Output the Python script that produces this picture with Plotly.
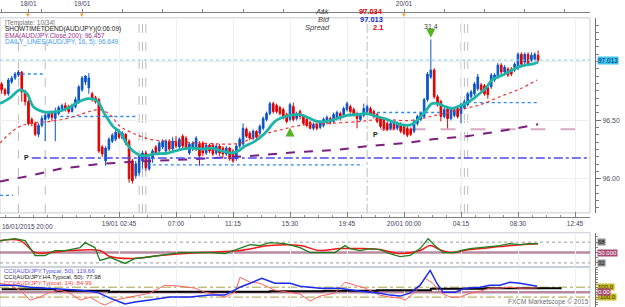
import plotly.graph_objects as go

W, H = 625, 307
FONT = "Liberation Sans"

# ---------------- candles (15-min AUD/JPY) ----------------
candle_idx = list(range(1, 162))
opens = [96.809, 96.759, 96.725, 96.826, 96.860, 96.885, 96.911, 96.742, 96.658, 96.506,
         96.472, 96.379, 96.455, 96.506, 96.523, 96.556, 96.514, 96.556, 96.590, 96.624,
         96.616, 96.573, 96.616, 96.658, 96.759, 96.826, 96.776, 96.725, 96.691, 96.675,
         96.270, 96.152, 96.253, 96.320, 96.337, 96.405, 96.346, 96.379, 96.320, 96.152,
         96.025, 96.051, 96.152, 96.219, 96.084, 96.169, 96.270, 96.236, 96.270, 96.236,
         96.320, 96.253, 96.320, 96.270, 96.363, 96.346, 96.219, 96.253, 96.253, 96.295,
         96.304, 96.219, 96.287, 96.287, 96.219, 96.278, 96.261, 96.211, 96.261, 96.236,
         96.169, 96.278, 96.295, 96.422, 96.388, 96.346, 96.405, 96.388, 96.430, 96.506,
         96.556, 96.641, 96.624, 96.607, 96.590, 96.548, 96.506, 96.616, 96.514, 96.573,
         96.531, 96.506, 96.481, 96.430, 96.464, 96.438, 96.455, 96.481, 96.514, 96.489,
         96.514, 96.556, 96.548, 96.590, 96.616, 96.590, 96.556, 96.506, 96.540, 96.573,
         96.599, 96.573, 96.548, 96.514, 96.497, 96.472, 96.430, 96.472, 96.430, 96.464,
         96.447, 96.430, 96.422, 96.405, 96.472, 96.506, 96.531, 96.675, 96.869, 96.928,
         96.700, 96.658, 96.531, 96.599, 96.514, 96.540, 96.599, 96.556, 96.607, 96.632,
         96.700, 96.725, 96.767, 96.801, 96.793, 96.776, 96.784, 96.843, 96.869, 96.970,
         96.911, 96.936, 96.936, 96.928, 96.944, 97.062, 96.995, 97.062, 97.012, 97.020,
         97.054]
highs = [96.826, 96.776, 96.860, 96.877, 96.911, 96.928, 96.919, 96.759, 96.675, 96.523,
         96.489, 96.472, 96.540, 96.565, 96.573, 96.582, 96.607, 96.624, 96.641, 96.649,
         96.632, 96.641, 96.700, 96.801, 96.877, 96.885, 96.902, 96.742, 96.708, 96.691,
         96.287, 96.278, 96.354, 96.388, 96.422, 96.422, 96.405, 96.388, 96.337, 96.169,
         96.152, 96.202, 96.236, 96.236, 96.194, 96.253, 96.287, 96.320, 96.337, 96.337,
         96.337, 96.354, 96.363, 96.354, 96.379, 96.363, 96.312, 96.320, 96.363, 96.320,
         96.320, 96.304, 96.295, 96.304, 96.295, 96.295, 96.278, 96.278, 96.270, 96.253,
         96.295, 96.354, 96.472, 96.438, 96.405, 96.422, 96.413, 96.464, 96.531, 96.573,
         96.658, 96.658, 96.641, 96.624, 96.607, 96.565, 96.649, 96.649, 96.573, 96.590,
         96.548, 96.523, 96.497, 96.481, 96.481, 96.497, 96.523, 96.540, 96.531, 96.565,
         96.582, 96.573, 96.616, 96.658, 96.632, 96.607, 96.573, 96.556, 96.641, 96.632,
         96.616, 96.590, 96.565, 96.531, 96.514, 96.489, 96.489, 96.489, 96.489, 96.481,
         96.464, 96.447, 96.438, 96.506, 96.548, 96.573, 96.691, 96.911, 97.189, 96.944,
         96.717, 96.675, 96.607, 96.616, 96.616, 96.607, 96.616, 96.649, 96.675, 96.742,
         96.759, 96.826, 96.894, 96.818, 96.809, 96.793, 96.902, 96.902, 96.987, 96.987,
         96.970, 96.953, 96.953, 96.995, 97.079, 97.079, 97.079, 97.079, 97.079, 97.079,
         97.096]
lows = [96.725, 96.708, 96.708, 96.809, 96.843, 96.869, 96.658, 96.624, 96.455, 96.447,
        96.363, 96.354, 96.438, 96.320, 96.506, 96.489, 96.320, 96.540, 96.573, 96.573,
        96.556, 96.565, 96.599, 96.641, 96.742, 96.801, 96.725, 96.658, 96.641, 96.219,
        96.186, 96.110, 96.236, 96.304, 96.320, 96.337, 96.337, 96.287, 95.966, 95.958,
        96.000, 96.025, 96.084, 96.067, 96.067, 96.135, 96.202, 96.219, 96.253, 96.219,
        96.236, 96.236, 96.261, 96.253, 96.261, 96.245, 96.202, 96.236, 96.236, 96.110,
        96.194, 96.202, 96.219, 96.194, 96.202, 96.194, 96.186, 96.194, 96.152, 96.135,
        96.152, 96.261, 96.278, 96.346, 96.329, 96.329, 96.337, 96.371, 96.413, 96.489,
        96.540, 96.556, 96.556, 96.540, 96.506, 96.472, 96.489, 96.489, 96.497, 96.506,
        96.455, 96.438, 96.422, 96.413, 96.413, 96.422, 96.438, 96.464, 96.464, 96.472,
        96.497, 96.497, 96.531, 96.573, 96.556, 96.531, 96.430, 96.489, 96.523, 96.556,
        96.540, 96.514, 96.472, 96.430, 96.405, 96.405, 96.413, 96.413, 96.413, 96.388,
        96.371, 96.354, 96.363, 96.388, 96.455, 96.489, 96.514, 96.658, 96.852, 96.683,
        96.616, 96.489, 96.514, 96.430, 96.497, 96.523, 96.514, 96.472, 96.590, 96.616,
        96.683, 96.708, 96.750, 96.742, 96.708, 96.683, 96.767, 96.826, 96.852, 96.894,
        96.894, 96.869, 96.877, 96.911, 96.928, 96.961, 96.978, 96.961, 96.995, 97.003,
        96.995]
closes = [96.759, 96.725, 96.843, 96.860, 96.894, 96.911, 96.742, 96.658, 96.472, 96.472,
          96.379, 96.455, 96.514, 96.540, 96.556, 96.523, 96.573, 96.607, 96.624, 96.590,
          96.573, 96.624, 96.675, 96.784, 96.860, 96.877, 96.860, 96.675, 96.658, 96.236,
          96.211, 96.261, 96.337, 96.371, 96.396, 96.354, 96.388, 96.304, 96.000, 95.983,
          96.126, 96.186, 96.219, 96.093, 96.177, 96.236, 96.219, 96.304, 96.320, 96.320,
          96.253, 96.320, 96.278, 96.337, 96.278, 96.261, 96.295, 96.304, 96.346, 96.194,
          96.219, 96.287, 96.236, 96.211, 96.278, 96.219, 96.211, 96.261, 96.169, 96.152,
          96.278, 96.337, 96.430, 96.363, 96.346, 96.405, 96.354, 96.447, 96.514, 96.556,
          96.641, 96.573, 96.573, 96.556, 96.531, 96.489, 96.632, 96.506, 96.556, 96.531,
          96.472, 96.455, 96.430, 96.464, 96.430, 96.481, 96.506, 96.523, 96.481, 96.548,
          96.565, 96.514, 96.599, 96.641, 96.573, 96.548, 96.514, 96.540, 96.599, 96.616,
          96.556, 96.531, 96.489, 96.447, 96.430, 96.422, 96.472, 96.430, 96.472, 96.405,
          96.388, 96.371, 96.379, 96.489, 96.531, 96.556, 96.675, 96.894, 96.928, 96.700,
          96.632, 96.531, 96.590, 96.514, 96.599, 96.590, 96.531, 96.632, 96.658, 96.725,
          96.742, 96.809, 96.869, 96.759, 96.725, 96.717, 96.885, 96.885, 96.970, 96.911,
          96.953, 96.885, 96.894, 96.978, 97.062, 96.978, 97.062, 96.978, 97.054, 97.062,
          97.013]

# ---------------- overlays ----------------
teal_x = [0.5, 3.5, 6.5, 8.6, 10.4, 13.3, 17.5, 20.5, 23.5, 26.8, 29.4, 31.8, 34.2, 36.3, 38.4,
          40.2, 43.2, 46.7, 50.6, 54.8, 57.8, 60.8, 63.7, 66.7, 69.7, 71.5, 73.6, 76.6, 79.5,
          82.5, 84.0, 87.0, 90.0, 93.0, 95.1, 98.0, 101.0, 104.0, 107.0, 110.0, 112.9, 115.9,
          118.9, 121.9, 123.4, 125.2, 127.3, 129.3, 131.1, 133.2, 135.3, 137.1, 139.2, 141.3,
          143.1, 145.2, 147.2, 149.0, 151.1, 153.2, 155.0, 157.1, 159.2, 161.0]
teal_y = [96.641, 96.691, 96.759, 96.725, 96.616, 96.573, 96.573, 96.599, 96.649, 96.683, 96.666,
          96.548, 96.447, 96.396, 96.295, 96.236, 96.194, 96.211, 96.219, 96.253, 96.261, 96.253,
          96.261, 96.236, 96.219, 96.236, 96.278, 96.320, 96.388, 96.489, 96.514, 96.540, 96.548,
          96.514, 96.489, 96.489, 96.514, 96.540, 96.548, 96.556, 96.531, 96.506, 96.472, 96.455,
          96.464, 96.506, 96.573, 96.641, 96.641, 96.616, 96.599, 96.616, 96.641, 96.675, 96.717,
          96.767, 96.843, 96.869, 96.894, 96.928, 96.953, 96.970, 96.978, 96.995]
ma_x = [0.5, 3.5, 6.5, 9.5, 15.4, 20.5, 24.4, 28.2, 30.3, 33.3, 36.3, 40.2, 45.2, 50.3, 60.2,
        69.1, 72.1, 75.1, 80.1, 84.9, 90.0, 98.9, 107.9, 113.8, 122.8, 128.8, 137.7, 143.7,
        149.6, 155.6, 160.7]
ma_y = [96.304, 96.388, 96.447, 96.472, 96.489, 96.514, 96.548, 96.582, 96.590, 96.548, 96.447,
        96.388, 96.337, 96.320, 96.304, 96.295, 96.304, 96.337, 96.388, 96.422, 96.455, 96.472,
        96.489, 96.506, 96.497, 96.531, 96.590, 96.632, 96.700, 96.767, 96.843]
ema_x = [0.5, 9.5, 18.4, 30.3, 39.3, 48.2, 60.2, 75.1, 90.0, 101.0, 110.0, 121.3, 129.6, 139.8,
         149.6, 161.0]
ema_y = [95.975, 96.025, 96.084, 96.126, 96.143, 96.152, 96.169, 96.194, 96.228, 96.245, 96.278,
         96.304, 96.337, 96.363, 96.405, 96.464]

bid, ask, spread = 97.013, 97.034, 2.1
pivot_level, pivot_start = 96.177, 10
pivot2_level, pivot2_start = 96.422, 114
daily_start = [0.5, 7, 18.5, 44.3, 113, 140]
daily_end = [4.4, 14, 41.5, 108.8, 131.7, 161]
daily_level = [95.857, 96.894, 96.531, 96.118, 96.565, 96.649]
session_dash = [6, 14, 42, 43, 44, 138, 139, 140]
session_dashdot = [110]
sig_up_idx, sig_up_price = [87], [96.438]
sig_dn_idx, sig_dn_price, sig_dn_text = [129], [97.205], ["31.4"]

# ---------------- oscillators ----------------
rsi_x = [0.5, 5.0, 8.0, 11.0, 13.9, 16.9, 19.9, 24.4, 25.9, 28.8, 30.3, 33.3, 37.8, 40.8, 43.8,
         48.2, 54.2, 60.2, 63.1, 67.6, 72.1, 75.1, 78.0, 81.0, 85.5, 90.0, 93.0, 95.9, 100.4,
         103.4, 104.9, 107.9, 110.9, 113.8, 116.8, 119.8, 122.8, 125.8, 128.2, 130.2, 132.6,
         136.2, 137.7, 140.7, 143.7, 146.6, 149.6, 152.6, 155.6, 158.6, 161.0]
rsi_y = [70.6, 74.0, 70.6, 44.9, 44.9, 53.4, 53.4, 58.6, 67.1, 58.6, 36.3, 41.4, 31.1, 39.7, 41.4,
         44.9, 50.0, 50.0, 50.0, 48.3, 56.9, 63.7, 62.0, 67.1, 65.4, 58.6, 50.0, 50.0, 50.0,
         62.0, 56.9, 53.4, 56.9, 55.1, 48.3, 43.1, 44.9, 56.9, 74.0, 62.0, 50.0,
         50.0, 53.4, 56.9, 58.6, 60.3, 62.0, 65.4, 63.7, 65.4, 65.4]
rsi_sig_x = [0.5, 6.5, 11.0, 15.4, 21.4, 30.3, 33.3, 39.3, 48.2, 60.2, 72.1, 81.0, 90.0, 95.9,
             101.9, 107.9, 113.8, 119.8, 125.8, 128.8, 131.7, 134.7, 140.7, 149.6, 155.6, 161.0]
rsi_sig_y = [70.6, 70.6, 50.0, 50.0, 53.4, 53.4, 43.1, 39.7, 44.9, 50.0, 53.4, 62.0, 62.0, 53.4,
             56.9, 56.9, 55.1, 48.3, 53.4, 62.0, 55.1, 50.0, 55.1, 60.3, 63.7, 65.4]
rsi_levels = [32, 50, 68]

cci50_x = [0.5, 5.0, 9.5, 15.4, 24.4, 29.4, 33.3, 37.8, 40.8, 45.2, 51.2, 57.2, 63.1, 67.6, 72.1,
           75.1, 78.6, 82.5, 87.0, 90.0, 95.9, 101.9, 107.9, 113.8, 116.8, 119.8, 122.8, 125.8,
           127.3, 128.8, 130.8, 132.6, 136.2, 139.2, 143.7, 146.6, 149.6, 152.6, 155.6, 158.6, 160.7]
cci50_y = [140, 140, 100, 80, 40, 0, -120, -240, -200, -160, -100, -100, -60, -60, 100,
           180, 280, 180, 180, 120, 80, 80, 20, -20, -60, -80, -20, 140,
           300, 440, 180, 0, 0, 80, 100, 140, 140, 200, 180, 140, 119.66]
cci14_x = [0.5, 3.5, 6.5, 9.5, 12.4, 15.4, 18.4, 21.4, 24.4, 27.4, 30.3, 31.8, 34.8, 39.3, 45.2,
           49.7, 54.2, 58.7, 61.6, 64.6, 67.6, 70.6, 72.1, 75.1, 78.0, 82.5, 87.0, 90.0, 93.0,
           95.9, 100.4, 103.4, 106.4, 109.4, 113.8, 116.8, 119.8, 121.3, 124.3, 127.3, 129.6,
           131.7, 134.7, 137.7, 140.7, 143.7, 146.6, 149.6, 152.6, 155.6, 160.7]
cci14_y = [180, 140, 40, -160, -100, 0, 40, -20, -160, -100, -220, -260, -160, -100, -20,
           140, 120, 80, 0, -40, -100, 0, 300, 200, 180, 40, 0, -40, -180,
           -80, -20, 200, 140, 80, -60, -100, -120, -160, 0, 280, 180,
           0, -100, -100, -20, 20, 80, 80, 100, 80, 84.99]
cci_h4_x = [1, 17, 33, 49, 65, 81, 97, 113, 129, 145, 168]
cci_h4_y = [60, 30, 10, 10, 10, 20, 30, 40, 70, 77.98, 77.98]
cci_levels = [-100, 0, 100]

x_tick_idx = [36, 53, 70, 87, 104, 121, 138, 155, 172]
x_tick_text = ["19/01 02:45", "07:00", "11:15", "15:30", "19:45", "20/01 00:00",
               "04:15", "08:30", "12:45"]
first_label = "16/01/2015 20:00"
top_tick_idx = [1, 13, 25, 37, 49, 61, 73, 85, 97, 109, 121, 133, 145, 157, 169]
date_idx = [9, 25, 121]
date_text = ["18/01", "19/01", "20/01"]
price_ticks = [96.0, 96.5, 97.0]
price_tick_text = ["96.00", "96.50", ""]

X_RANGE = [0.51, 176.47]
Y_MAIN = [95.707, 97.374]
Y_RSI = [26.0, 84.3]
Y_CCI = [-300, 500]


def py(p):
    return 1 - p / H


def px(p):
    return p / W


# top axis ticks: unique positions, dates labelled
top_vals = sorted(set(top_tick_idx) | set(date_idx))
top_text = [date_text[date_idx.index(v)] if v in date_idx else "" for v in top_vals]

fig = go.Figure()

fig.add_trace(go.Candlestick(
    x=candle_idx, open=opens, high=highs, low=lows, close=closes,
    increasing=dict(line=dict(color="#0B55C6", width=1), fillcolor="#0B55C6"),
    decreasing=dict(line=dict(color="#E00000", width=1), fillcolor="#E00000"),
    whiskerwidth=0, hoverinfo="skip", xaxis="x", yaxis="y"))

for s, e, lv in zip(daily_start, daily_end, daily_level):
    fig.add_trace(go.Scatter(x=[s, e], y=[lv, lv], mode="lines",
                             line=dict(color="#2F86F0", width=1.3, dash="dot"),
                             hoverinfo="skip", xaxis="x", yaxis="y"))

fig.add_trace(go.Scatter(x=ema_x, y=ema_y, mode="lines", line=dict(color="#7A1F80", width=2, dash="dash"),
                         hoverinfo="skip", xaxis="x", yaxis="y"))
fig.add_trace(go.Scatter(x=ma_x, y=ma_y, mode="lines", line=dict(color="#F03030", width=1.2, dash="dot", shape="spline"),
                         hoverinfo="skip", xaxis="x", yaxis="y"))
fig.add_trace(go.Scatter(x=teal_x, y=teal_y, mode="lines", line=dict(color="#1FB4A8", width=2.8, shape="spline"),
                         hoverinfo="skip", xaxis="x", yaxis="y"))
fig.add_trace(go.Scatter(x=sig_up_idx, y=sig_up_price, mode="markers",
                         marker=dict(symbol="arrow-up", size=9, color="#52B526"),
                         hoverinfo="skip", xaxis="x", yaxis="y"))
fig.add_trace(go.Scatter(x=sig_dn_idx, y=sig_dn_price, mode="markers+text", text=sig_dn_text,
                         textposition="top center", textfont=dict(family=FONT, size=7, color="#404040"),
                         marker=dict(symbol="arrow-down", size=9, color="#52B526"), cliponaxis=False,
                         hoverinfo="skip", xaxis="x", yaxis="y"))
# top date axis carrier
fig.add_trace(go.Scatter(x=date_idx, y=[None] * len(date_idx), mode="markers", hoverinfo="skip",
                         xaxis="x2", yaxis="y"))

# RSI panel
fig.add_trace(go.Scatter(x=rsi_sig_x, y=rsi_sig_y, mode="lines", line=dict(color="#F01818", width=1.5, shape="spline"),
                         hoverinfo="skip", xaxis="x", yaxis="y2"))
fig.add_trace(go.Scatter(x=rsi_x, y=rsi_y, mode="lines", line=dict(color="#1F7F1F", width=1.3),
                         hoverinfo="skip", xaxis="x", yaxis="y2"))

# CCI panel
fig.add_trace(go.Scatter(x=cci_h4_x, y=cci_h4_y, mode="lines", line=dict(color="#000000", width=2, shape="hv"),
                         hoverinfo="skip", xaxis="x", yaxis="y3"))
fig.add_trace(go.Scatter(x=cci14_x, y=cci14_y, mode="lines", line=dict(color="#FF6060", width=1),
                         hoverinfo="skip", xaxis="x", yaxis="y3"))
fig.add_trace(go.Scatter(x=cci50_x, y=cci50_y, mode="lines", line=dict(color="#1A2AF0", width=1.5),
                         hoverinfo="skip", xaxis="x", yaxis="y3"))

shapes = []
# panel borders
for y0, y1 in [(212, 15), (266, 232), (307, 267)]:
    shapes.append(dict(type="rect", xref="paper", yref="paper", x0=0, x1=px(590), y0=py(y0), y1=py(y1),
                       line=dict(color="#C8CCD4", width=1), layer="below"))
for s in session_dash:
    shapes.append(dict(type="line", xref="x", yref="y domain", x0=s, x1=s, y0=0, y1=1,
                       line=dict(color="#BBBBBB", width=1, dash="dash"), layer="below"))
for s in session_dashdot:
    shapes.append(dict(type="line", xref="x", yref="y domain", x0=s, x1=s, y0=0, y1=1,
                       line=dict(color="#BBBBBB", width=1, dash="dashdot"), layer="below"))
shapes.append(dict(type="line", xref="x domain", yref="y", x0=0, x1=1, y0=bid, y1=bid,
                   line=dict(color="#7CCFF2", width=1, dash="dot")))
shapes.append(dict(type="line", xref="x", yref="y", x0=pivot_start, x1=X_RANGE[1], y0=pivot_level, y1=pivot_level,
                   line=dict(color="#4A4AF5", width=1.5, dash="dashdot")))
shapes.append(dict(type="line", xref="x", yref="y", x0=pivot2_start, x1=X_RANGE[1], y0=pivot2_level, y1=pivot2_level,
                   line=dict(color="#D9A9C4", width=2, dash="longdash"), layer="below"))
for lv in rsi_levels:
    if lv == 50:
        shapes.append(dict(type="line", xref="x domain", yref="y2", x0=0, x1=1, y0=lv, y1=lv,
                           line=dict(color="#B88AA0", width=2.5), layer="below"))
    else:
        shapes.append(dict(type="line", xref="x domain", yref="y2", x0=0, x1=1, y0=lv, y1=lv,
                           line=dict(color="#999999", width=1, dash="dot"), layer="below"))
for lv in cci_levels:
    if lv == 0:
        shapes.append(dict(type="line", xref="x domain", yref="y3", x0=0, x1=1, y0=lv, y1=lv,
                           line=dict(color="#B88AA0", width=2.5), layer="below"))
    else:
        shapes.append(dict(type="line", xref="x domain", yref="y3", x0=0, x1=1, y0=lv, y1=lv,
                           line=dict(color="#A8A040", width=1, dash="dashdot"), layer="below"))

ann = []


def txt(x, y, s, color, size=6.5, xanchor="left", **kw):
    d = dict(xref="paper", yref="paper", x=px(x), y=py(y), text=s, showarrow=False,
             xanchor=xanchor, yanchor="middle", font=dict(family=FONT, size=size, color=color))
    d.update(kw)
    return d


ann += [
    txt(3, 20, "[Template: 10/34]", "#707070"),
    txt(3, 26.5, "SHOWTIMETOEND(AUD/JPY)(0:06:09)", "#202020"),
    txt(3, 33, "EMA(AUD/JPY.Close,200): 96.457", "#9B2C8A"),
    txt(3, 39.5, "DAILY_LINES(AUD/JPY, 16, 5): 96.649", "#3C9BEA"),
    txt(332, 9, "<i>Ask</i>", "#404040", size=7.5, xanchor="right"),
    txt(332, 17, "<i>Bid</i>", "#404040", size=7.5, xanchor="right"),
    txt(332, 25, "<i>Spread</i>", "#404040", size=7.5, xanchor="right"),
    txt(385, 9, "<b>%.3f</b>" % ask, "#E00000", size=7.5, xanchor="right"),
    txt(385, 17, "<b>%.3f</b>" % bid, "#1030C8", size=7.5, xanchor="right"),
    txt(385, 25, "<b>%.1f</b>" % spread, "#E00000", size=7.5, xanchor="right"),
    txt(0, 226, first_label, "#404060", size=6.5),
    txt(2, 271, "CCI(AUD/JPY.Typical, 50): 119.66", "#4A4AF0", size=6),
    txt(2, 277, "CCI(AUD/JPY.H4.Typical, 50): 77.98", "#202020", size=6),
    txt(2, 283, "CCI(AUD/JPY.Typical, 14): 84.99", "#F04040", size=6),
    txt(548, 302, "FXCM Marketscope © 2015", "#707070", size=6.5, xanchor="center"),
]
for d in date_idx:
    ann.append(dict(xref="x", yref="paper", x=d, y=py(12), text="▼", showarrow=False,
                    font=dict(size=6, color="#F5A020"), xanchor="center", yanchor="middle"))
ann.append(dict(xref="x", yref="y", x=pivot_start, y=pivot_level, text="<b>P</b>", showarrow=False,
                xanchor="right", yanchor="middle", xshift=-1, font=dict(family=FONT, size=7, color="#202020")))
ann.append(dict(xref="x", yref="y", x=pivot2_start, y=pivot2_level, text="<b>P</b>", showarrow=False,
                xanchor="right", yanchor="top", xshift=-1, font=dict(family=FONT, size=7, color="#202020")))
ann.append(dict(xref="paper", yref="y", x=px(597), y=bid, text="97.013", showarrow=False,
                xanchor="left", yanchor="middle", bgcolor="#3EC3F2", borderpad=0,
                font=dict(family=FONT, size=6.5, color="#0A2A50")))
for lv, bg, fc, t in [(68, "#8C8C8C", "#202020", "68"), (50, "#A84A74", "#FFFFFF", "50.000"),
                      (32, "#8C8C8C", "#202020", "32")]:
    ann.append(dict(xref="paper", yref="y2", x=px(597), y=lv, text=t, showarrow=False,
                    xanchor="left", yanchor="middle", bgcolor=bg, borderpad=0,
                    font=dict(family=FONT, size=6, color=fc)))
for lv, bg, fc, t in [(100, "#C8B82A", "#303000", "100.0"), (-100, "#C8B82A", "#303000", "-100.0"),
                      (0, "#A84A74", "#FFFFFF", "0.00")]:
    ann.append(dict(xref="paper", yref="y3", x=px(597), y=lv, text=t, showarrow=False,
                    xanchor="left", yanchor="middle", bgcolor=bg, borderpad=0,
                    font=dict(family=FONT, size=6, color=fc)))

axis_font = dict(family=FONT, size=6.5, color="#404060")

fig.update_layout(
    width=W, height=H, margin=dict(l=0, r=0, t=0, b=0),
    paper_bgcolor="white", plot_bgcolor="white", showlegend=False,
    shapes=shapes, annotations=ann,
    xaxis=dict(domain=[0, px(590)], range=X_RANGE, anchor="free", position=py(216),
               showline=True, linecolor="#808080", linewidth=1,
               ticks="inside", ticklen=5, tickcolor="#808080",
               tickvals=x_tick_idx, ticktext=x_tick_text, tickfont=axis_font,
               minor=dict(ticks="inside", ticklen=2, tick0=36, dtick=4.25, tickcolor="#909090", showgrid=False),
               showgrid=True, gridcolor="#EEEEEE", zeroline=False, rangeslider=dict(visible=False),
               fixedrange=True),
    xaxis2=dict(domain=[0, px(590)], range=X_RANGE, overlaying="x", anchor="free", position=py(9),
                side="top", showline=True, linecolor="#808080", ticks="outside", ticklen=3,
                tickcolor="#808080", tickvals=top_vals, ticktext=top_text, tickfont=axis_font,
                showgrid=False, zeroline=False, fixedrange=True),
    yaxis=dict(domain=[py(212), py(15)], range=Y_MAIN, anchor="free", position=px(595), side="right",
               showline=True, linecolor="#707070", ticks="outside", ticklen=5, tickcolor="#707070",
               tickvals=price_ticks, ticktext=price_tick_text, tickfont=dict(family=FONT, size=7, color="#505060"),
               minor=dict(ticks="outside", ticklen=3, tick0=96.0, dtick=0.0625, tickcolor="#808080", showgrid=False),
               showgrid=True, gridcolor="#EEEEEE", zeroline=False, fixedrange=True),
    yaxis2=dict(domain=[py(266), py(232)], range=Y_RSI, anchor="free", position=px(595), side="right",
                showline=True, linecolor="#707070", ticks="outside", ticklen=4, tickcolor="#707070",
                tickvals=rsi_levels, showticklabels=False,
                minor=dict(ticks="outside", ticklen=2, tick0=32, dtick=9, tickcolor="#808080", showgrid=False),
                showgrid=False, zeroline=False, fixedrange=True),
    yaxis3=dict(domain=[0, py(267)], range=Y_CCI, anchor="free", position=px(595), side="right",
                showline=True, linecolor="#707070", ticks="outside", ticklen=4, tickcolor="#707070",
                tickvals=cci_levels, showticklabels=False,
                minor=dict(ticks="outside", ticklen=2, tick0=0, dtick=50, tickcolor="#808080", showgrid=False),
                showgrid=False, zeroline=False, fixedrange=True),
)

fig.write_html("out.html", config={"displayModeBar": False, "staticPlot": True})
